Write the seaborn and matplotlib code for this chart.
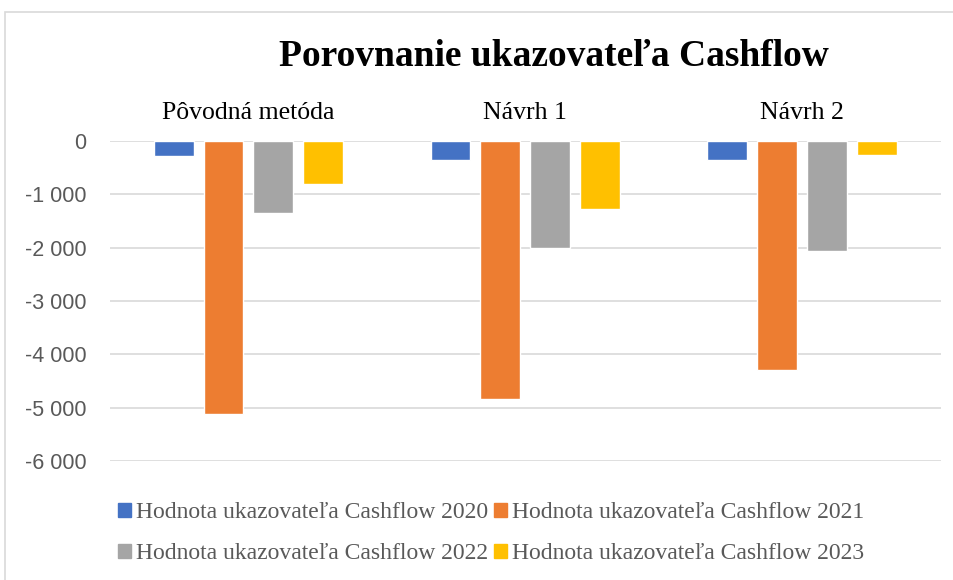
import matplotlib
matplotlib.use("Agg")
import matplotlib.pyplot as plt
import matplotlib.patches as mpatches
from matplotlib.ticker import FuncFormatter, MultipleLocator
import seaborn as sns
import pandas as pd

# Chart data
categories = ["Pôvodná metóda", "Návrh 1", "Návrh 2"]
series_names = [
    "Hodnota ukazovateľa Cashflow 2020",
    "Hodnota ukazovateľa Cashflow 2021",
    "Hodnota ukazovateľa Cashflow 2022",
    "Hodnota ukazovateľa Cashflow 2023",
]
cf_2020 = [-275, -358, -362]
cf_2021 = [-5115, -4845, -4295]
cf_2022 = [-1345, -2010, -2065]
cf_2023 = [-807, -1282, -268]
colors = ["#4472C4", "#ED7D31", "#A5A5A5", "#FFC000"]

rows = []
for name, vals in zip(series_names, [cf_2020, cf_2021, cf_2022, cf_2023]):
    for cat, v in zip(categories, vals):
        rows.append({"category": cat, "series": name, "value": v})
df = pd.DataFrame(rows)

sns.set_theme(style="white")
plt.rcParams["font.family"] = ["Liberation Serif", "DejaVu Serif"]

fig = plt.figure(figsize=(9.54, 5.8), dpi=100)
ax = fig.add_axes([110 / 954, 0.205, 830.5 / 954, 0.552])

sns.barplot(
    data=df, x="category", y="value", hue="series",
    hue_order=series_names, palette=colors, saturation=1,
    width=0.72, gap=0.2, ax=ax, legend=False,
)

ax.set_ylim(-6000, 0)
ax.set_xlim(-0.5, 2.5)
ax.yaxis.set_major_locator(MultipleLocator(1000))
ax.yaxis.set_major_formatter(FuncFormatter(lambda v, _: f"{int(v):,}".replace(",", " ")))
ax.grid(axis="y", color="#d9d9d9", linewidth=1.2)
ax.set_axisbelow(True)
for s in ax.spines.values():
    s.set_visible(False)

ax.xaxis.tick_top()
ax.tick_params(axis="x", length=0, pad=12, labelsize=18.5, labelcolor="black")
ax.tick_params(axis="y", length=0, pad=17, labelcolor="#595959")
for lbl in ax.get_yticklabels():
    lbl.set_fontfamily(["Liberation Sans", "DejaVu Sans"])
    lbl.set_fontsize(15.5)
ax.set_xlabel("")
ax.set_ylabel("")

fig.text(554 / 954, 1 - 56 / 580, "Porovnanie ukazovateľa Cashflow", ha="center", va="center",
         fontsize=27, fontweight="bold", color="black")

handles = [mpatches.Patch(color=c, label=n) for c, n in zip(colors, series_names)]
# legend fills column-wise, so reorder to read row by row
order = [0, 2, 1, 3]
fig.legend(handles=[handles[i] for i in order], loc="center", bbox_to_anchor=(0.515, 1 - 533 / 580),
           ncol=2, frameon=False, fontsize=17, labelcolor="#595959",
           handlelength=0.55, handleheight=0.55, handletextpad=0.2,
           columnspacing=0.25, labelspacing=0.85)

# outer chart border
fig.add_artist(mpatches.Rectangle((5 / 954, -0.01), 1.0, 1 - 12 / 580 + 0.01,
                                  transform=fig.transFigure, fill=False,
                                  edgecolor="#d9d9d9", linewidth=1.2))

fig.savefig("out.png", dpi=100, facecolor="white")
